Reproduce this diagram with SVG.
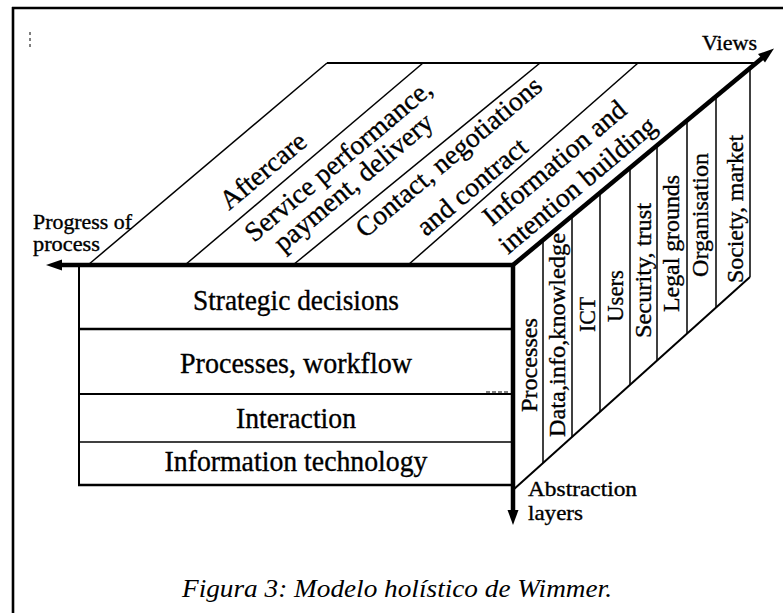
<svg xmlns="http://www.w3.org/2000/svg" width="783" height="613" viewBox="0 0 783 613">
<style>
.ln{stroke:#000;fill:none;stroke-linecap:butt}
.t{font-family:"Liberation Serif","Times New Roman",serif;fill:#000;stroke:#000;stroke-width:0.35px}
.front{font-size:30px;text-anchor:middle}
.top{font-size:27.5px}
.side{font-size:24px}
.ax{font-size:21px}
.cap{font-family:"Liberation Serif","DejaVu Serif",serif;font-style:italic;font-size:25px;text-anchor:middle;fill:#000}
</style>
<rect x="0" y="0" width="783" height="613" fill="#fff"/>
<g id="frame">
<line class="ln" x1="13" y1="7" x2="13" y2="613" stroke-width="2.6"/>
<line class="ln" x1="12" y1="8" x2="783" y2="8" stroke-width="2.6"/>
<line class="ln" x1="30" y1="32" x2="30" y2="50" stroke-width="1" stroke-dasharray="3,3"/>
</g>
<g id="top-face">
<line class="ln" x1="327" y1="63" x2="757" y2="63" stroke-width="2"/>
<line class="ln" x1="88" y1="265" x2="327" y2="63" stroke-width="1.5"/>
<line class="ln" x1="185" y1="265" x2="423" y2="63" stroke-width="1.5"/>
<line class="ln" x1="293" y1="265" x2="540" y2="63" stroke-width="1.5"/>
<line class="ln" x1="408" y1="265" x2="638" y2="63" stroke-width="1.5"/>
</g>
<g id="front-face">
<line class="ln" x1="79" y1="265" x2="79" y2="486" stroke-width="2"/>
<line class="ln" x1="78" y1="485" x2="513" y2="485" stroke-width="2.5"/>
<line class="ln" x1="79" y1="329" x2="513" y2="329" stroke-width="2.5"/>
<line class="ln" x1="79" y1="394" x2="513" y2="394" stroke-width="2"/>
<line class="ln" x1="79" y1="442" x2="513" y2="442" stroke-width="1.5"/>
<line class="ln" x1="486" y1="392" x2="508" y2="392" stroke-width="1" stroke-dasharray="4,2"/>
</g>
<g id="side-face">
<line class="ln" x1="513" y1="490" x2="750" y2="277" stroke-width="2"/>
<line class="ln" x1="750" y1="68" x2="750" y2="277" stroke-width="1.5"/>
<line class="ln" x1="543" y1="240" x2="543" y2="463" stroke-width="1.5"/>
<line class="ln" x1="572" y1="216" x2="572" y2="437" stroke-width="1.5"/>
<line class="ln" x1="600" y1="193" x2="600" y2="412" stroke-width="1.5"/>
<line class="ln" x1="630" y1="168" x2="630" y2="385" stroke-width="1.5"/>
<line class="ln" x1="657" y1="145" x2="657" y2="361" stroke-width="1.5"/>
<line class="ln" x1="687" y1="120" x2="687" y2="334" stroke-width="1.5"/>
<line class="ln" x1="716" y1="96" x2="716" y2="308" stroke-width="1.5"/>
</g>
<g id="connectors">
<line class="ln" x1="515" y1="265" x2="58" y2="265" stroke-width="4.5"/>
<polygon points="46,265 62,259.5 62,270.5" fill="#000"/>
<line class="ln" x1="513" y1="263" x2="513" y2="513" stroke-width="4.5"/>
<polygon points="513,525 507.5,510 518.5,510" fill="#000"/>
<line class="ln" x1="513" y1="265" x2="764" y2="56.5" stroke-width="4.5"/>
<polygon points="774,48.5 765,62.5 758,54" fill="#000"/>
</g>
<g id="labels-axes">
<text class="t ax" x="33" y="229" font-size="19" textLength="99" lengthAdjust="spacingAndGlyphs">Progress of</text>
<text class="t ax" x="33" y="251" font-size="19" textLength="67" lengthAdjust="spacingAndGlyphs">process</text>
<text class="t ax" x="702" y="50" textLength="55" lengthAdjust="spacingAndGlyphs">Views</text>
<text class="t ax" x="528" y="496" textLength="109" lengthAdjust="spacingAndGlyphs">Abstraction</text>
<text class="t ax" x="528" y="520" textLength="55" lengthAdjust="spacingAndGlyphs">layers</text>
</g>
<g id="phases">
<text class="t top" transform="translate(229,211) rotate(-40)">Aftercare</text>
<text class="t top" transform="translate(254,243) rotate(-40)">Service performance,</text>
<text class="t top" transform="translate(283,253) rotate(-40)">payment, delivery</text>
<text class="t top" transform="translate(365,239) rotate(-40)">Contact, negotiations</text>
<text class="t top" transform="translate(426,237) rotate(-40)">and contract</text>
<text class="t top" transform="translate(492,227) rotate(-40)">Information and</text>
<text class="t top" transform="translate(508,255) rotate(-40)">intention building</text>
</g>
<g id="layers">
<text class="t front" x="296" y="310" textLength="206" lengthAdjust="spacingAndGlyphs">Strategic decisions</text>
<text class="t front" x="296" y="373" textLength="232" lengthAdjust="spacingAndGlyphs">Processes, workflow</text>
<text class="t front" x="296" y="428" textLength="120" lengthAdjust="spacingAndGlyphs">Interaction</text>
<text class="t front" x="296" y="471" textLength="263" lengthAdjust="spacingAndGlyphs">Information technology</text>
</g>
<g id="views">
<text class="t side" transform="translate(537,412) rotate(-90)" textLength="94" lengthAdjust="spacingAndGlyphs">Processes</text>
<text class="t side" transform="translate(565,437) rotate(-90)" textLength="204" lengthAdjust="spacingAndGlyphs">Data,info,knowledge</text>
<text class="t side" transform="translate(595,332) rotate(-90)" textLength="35" lengthAdjust="spacingAndGlyphs">ICT</text>
<text class="t side" transform="translate(623,322) rotate(-90)" textLength="52" lengthAdjust="spacingAndGlyphs">Users</text>
<text class="t side" transform="translate(651,338) rotate(-90)" textLength="135" lengthAdjust="spacingAndGlyphs">Security, trust</text>
<text class="t side" transform="translate(679,312) rotate(-90)" textLength="137" lengthAdjust="spacingAndGlyphs">Legal grounds</text>
<text class="t side" transform="translate(708,277) rotate(-90)" textLength="124" lengthAdjust="spacingAndGlyphs">Organisation</text>
<text class="t side" transform="translate(743,283) rotate(-90)" textLength="148" lengthAdjust="spacingAndGlyphs">Society, market</text>
</g>
<g id="caption">
<text class="cap" x="397" y="597" textLength="430" lengthAdjust="spacingAndGlyphs">Figura 3: Modelo holístico de Wimmer.</text>
</g>
</svg>
